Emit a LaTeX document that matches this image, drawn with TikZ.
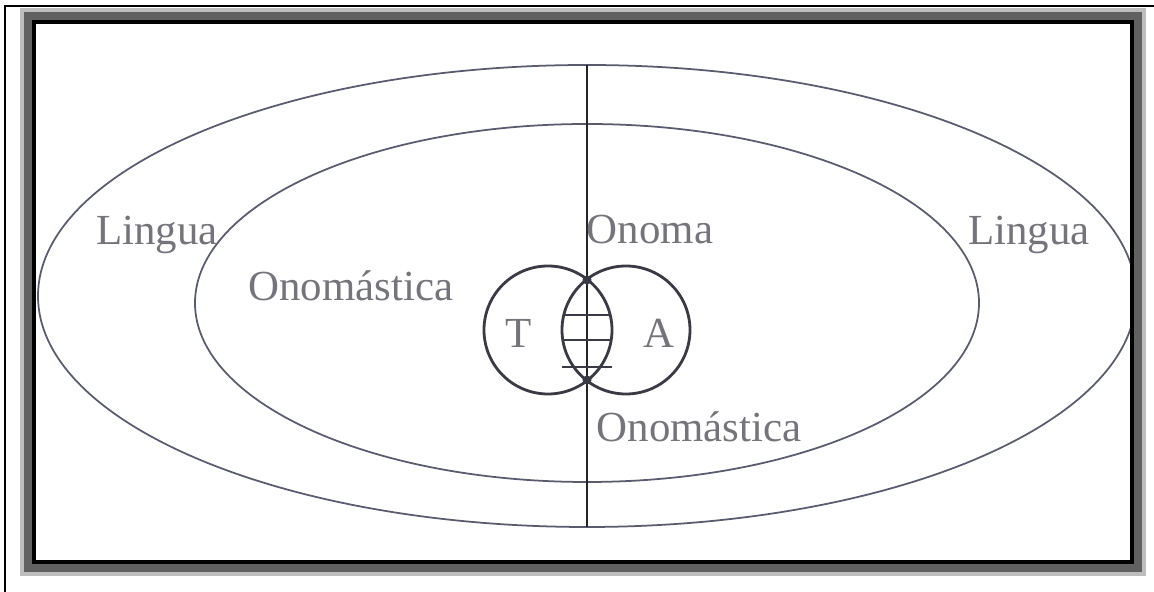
\documentclass[tikz,border=0pt]{standalone}
\usepackage{fontspec}
\setmainfont{Liberation Serif}
\begin{document}
\begin{tikzpicture}[x=1cm, y=1cm]
    % Define colours
    \definecolor{frameLight}{HTML}{BDBDBD}
    \definecolor{frameDark}{HTML}{616161}
    \definecolor{ovalColour}{HTML}{5A5B6E}
    \definecolor{circleColour}{HTML}{3A3A44}
    \definecolor{textColour}{HTML}{74747A}

    % Define styles
    \tikzset{
        oval/.style={draw=ovalColour, line width=0.5pt},
        ring/.style={draw=circleColour, line width=0.8pt},
        hatch/.style={draw=circleColour, line width=0.7pt},
        label/.style={text=textColour, font=\fontsize{12.2}{14}\selectfont, inner sep=0pt},
        dot/.style={circle, fill=circleColour, inner sep=0pt, minimum size=0.9mm}
    }

    % Fix picture size
    \useasboundingbox (0,0) rectangle (11.54,5.92);

    % Draw frame
    \draw[line width=0.6pt] (0.05,0) -- (0.05,5.86) -- (11.54,5.86);
    \fill[frameLight] (0.20,0.16) rectangle (11.46,5.84);
    \fill[frameDark]  (0.24,0.20) rectangle (11.42,5.80);
    \fill[black]      (0.32,0.28) rectangle (11.34,5.72);
    \fill[white]      (0.36,0.32) rectangle (11.30,5.68);

    % Draw ovals
    \begin{scope}
        \clip (0.36,0.32) rectangle (11.30,5.68);
        \draw[oval] (5.87,2.96) ellipse [x radius=5.49, y radius=2.31];
    \end{scope}
    \draw[oval] (5.87,2.89) ellipse [x radius=3.92, y radius=1.79];

    % Axis of the two circles
    \coordinate (axisTop) at (5.87,5.27);
    \coordinate (axisBot) at (5.87,0.65);
    \draw[line width=0.6pt, draw=black!85] (axisTop) -- (axisBot);

    % Circles T and A
    \coordinate (T) at (5.48,2.62);
    \coordinate (A) at (6.26,2.62);
    \draw[ring] (T) circle (0.64);
    \draw[ring] (A) circle (0.64);
    \node[dot] (lensTop) at (5.87,3.12) {};
    \node[dot] (lensBot) at (5.87,2.12) {};

    % Hatch lines inside the lens
    \coordinate (h1a) at (5.638,2.77);
    \coordinate (h1b) at (6.102,2.77);
    \coordinate (h2a) at (5.628,2.52);
    \coordinate (h2b) at (6.112,2.52);
    \coordinate (h3a) at (5.62,2.25);
    \coordinate (h3b) at (6.12,2.25);
    \draw[hatch] (h1a) -- (h1b);
    \draw[hatch] (h2a) -- (h2b);
    \draw[hatch] (h3a) -- (h3b);
    \foreach \p in {(5.645,2.77),(5.738,2.25),(6.002,2.25)}
        \fill[circleColour] \p circle (0.015);

    % Labels
    \node[label] (linguaL) at (1.57,3.57) {Lingua};
    \node[label] (linguaR) at (10.29,3.57) {Lingua};
    \node[label] (onomasticaL) at (3.51,3.06) {Onomástica};
    \node[label] (onomasticaR) at (6.99,1.65) {Onomástica};
    \node[label] (onoma) at (6.50,3.62) {Onoma};
    \node[label] (labelT) at (5.19,2.59) {T};
    \node[label] (labelA) at (6.59,2.59) {A};

\end{tikzpicture}
\end{document}
